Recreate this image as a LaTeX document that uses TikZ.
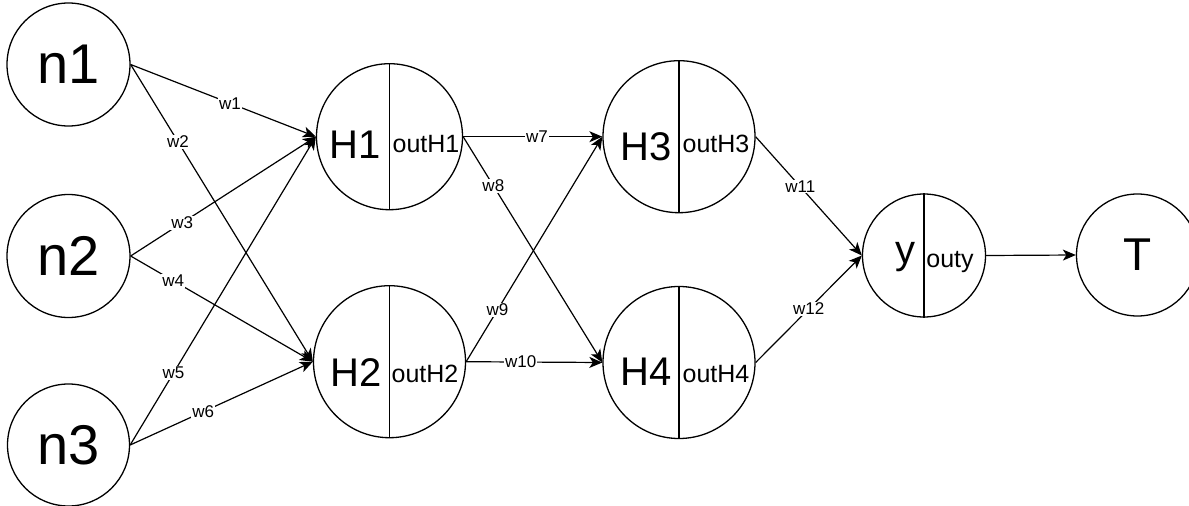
\documentclass[tikz,border=0pt]{standalone}
\usepackage{fontspec}
\setmainfont{Liberation Sans}
\usetikzlibrary{arrows.meta}
\begin{document}
\begin{tikzpicture}[x=1pt,y=-1pt,
  circ/.style={circle, draw, line width=1.3pt, inner sep=0pt},
  divider/.style={draw, line width=1.2pt},
  edge/.style={draw, line width=1.2pt, -{Stealth[length=13pt,width=11pt,inset=3.5pt]}},
  wlab/.style={fill=white, inner sep=1pt, font=\fontsize{17}{17}\selectfont},
  nlab/.style={font=\fontsize{56}{56}\selectfont},
  hlab/.style={anchor=base, inner sep=0pt, font=\fontsize{40}{40}\selectfont},
  olab/.style={anchor=base, inner sep=0pt, font=\fontsize{25}{25}\selectfont},
  tlab/.style={font=\fontsize{46}{46}\selectfont}
]
\useasboundingbox (0,0) rectangle (1189,506);

% input nodes
\node[circ, minimum size=123pt, nlab] (n1) at (68.5,64.5) {n1};
\node[circ, minimum size=123pt, nlab] (n2) at (68.5,256) {n2};
\node[circ, minimum size=122pt, nlab] (n3) at (68.5,445) {n3};

% hidden split nodes
\node[circ, minimum size=146pt] (H1) at (389.5,136.7) {};
\node[circ, minimum size=152pt] (H2) at (389.5,361.7) {};
\node[circ, minimum size=152pt] (H3) at (679,136.7) {};
\node[circ, minimum size=152pt] (H4) at (679,362.5) {};
\node[circ, minimum size=123pt] (y) at (924,255.5) {};
\node[circ, minimum size=122pt, tlab] (T) at (1137.5,255) {T};

\path[divider] (H1.north) -- (H1.south);
\path[divider] (H2.north) -- (H2.south);
\path[divider] (H3.north) -- (H3.south);
\path[divider] (H4.north) -- (H4.south);
\path[divider] (y.north) -- (y.south);

\node[hlab] (H1a) at (355,158) {H1};
\node[olab] (H1b) at (426,152) {outH1};
\node[hlab] (H2a) at (356,386) {H2};
\node[olab] (H2b) at (425,382) {outH2};
\node[hlab] (H3a) at (646,160) {H3};
\node[olab] (H3b) at (716,152) {outH3};
\node[hlab] (H4a) at (646,385) {H4};
\node[olab] (H4b) at (716,382) {outH4};
\node[hlab] (ya) at (905,263) {y};
\node[olab] (yb) at (950,267) {outy};

% edges
\draw[edge] (n1.east) -- node[wlab,pos=0.536] {w1} (H1.west);
\draw[edge] (n1.east) -- node[wlab,pos=0.26] {w2} (H2.west);
\draw[edge] (n2.east) -- node[wlab,pos=0.279] {w3} (H1.west);
\draw[edge] (n2.east) -- node[wlab,pos=0.234] {w4} (H2.west);
\draw[edge] (n3.east) -- node[wlab,pos=0.233] {w5} (H1.west);
\draw[edge] (n3.east) -- node[wlab,pos=0.40] {w6} (H2.west);
\draw[edge] (H1.east) -- node[wlab,pos=0.53] {w7} (H3.west);
\draw[edge] (H1.east) -- node[wlab,pos=0.217] {w8} (H4.west);
\draw[edge] (H2.east) -- node[wlab,pos=0.23] {w9} (H3.west);
\draw[edge] (H2.east) -- node[wlab,pos=0.40] {w10} (H4.west);
\draw[edge] (H3.east) -- node[wlab,pos=0.42] {w11} (y.west);
\draw[edge] (H4.east) -- node[wlab,pos=0.50] {w12} (y.west);
\draw[edge] (y.east) -- (T.west);
\end{tikzpicture}
\end{document}
